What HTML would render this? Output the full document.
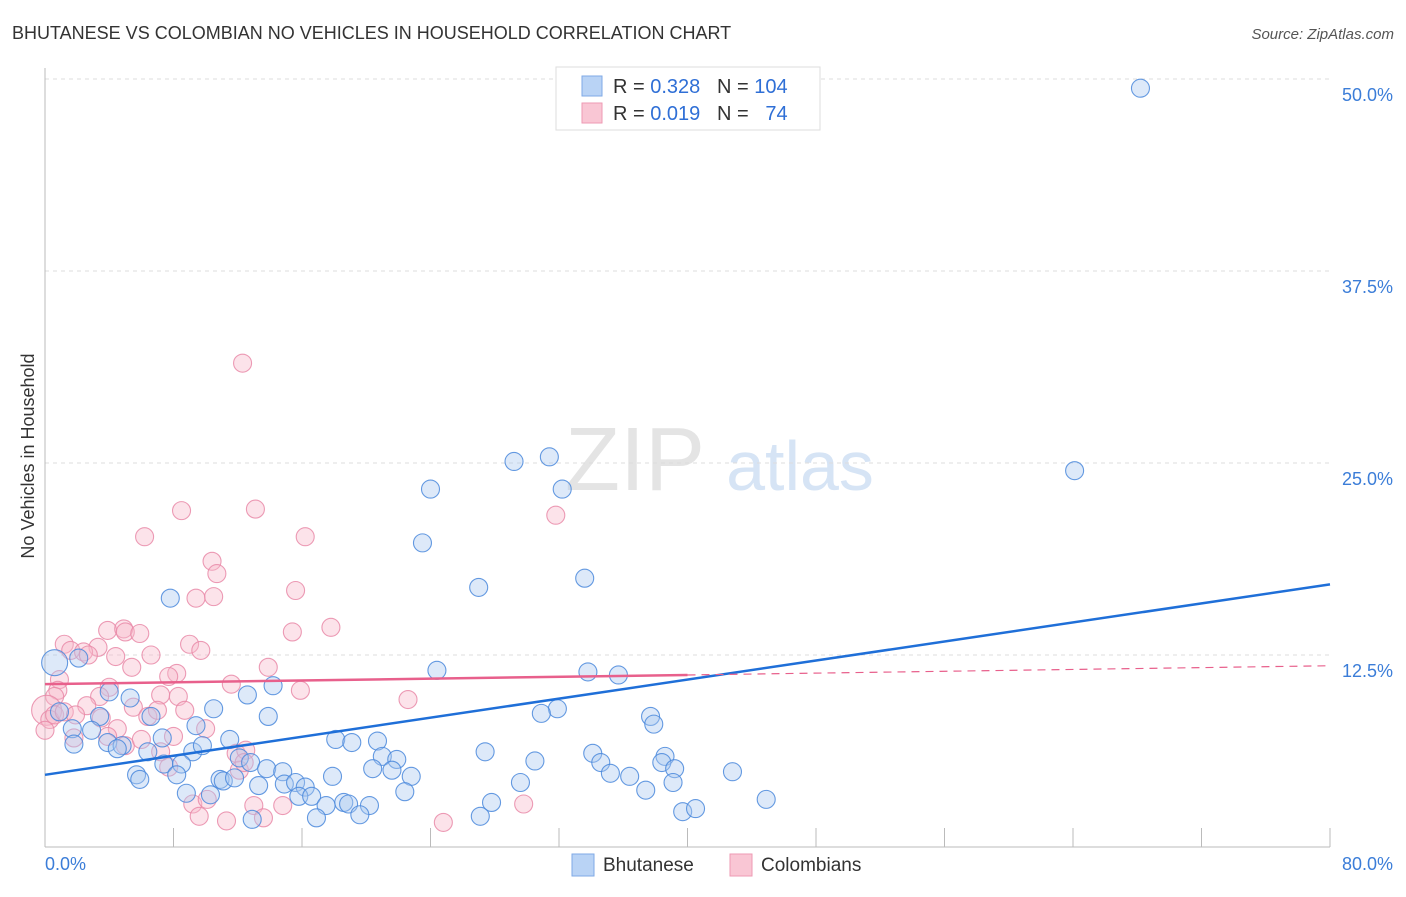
<!DOCTYPE html>
<html><head><meta charset="utf-8"><style>
body{margin:0;background:#fff;font-family:"Liberation Sans",sans-serif}
svg text{font-family:"Liberation Sans",sans-serif}
</style></head><body>
<svg id="chart" width="1406" height="892" xmlns="http://www.w3.org/2000/svg">
<text x="12" y="39" font-size="18" fill="#333">BHUTANESE VS COLOMBIAN NO VEHICLES IN HOUSEHOLD CORRELATION CHART</text>
<text x="1394" y="39" font-size="15" fill="#555" text-anchor="end" font-style="italic">Source: ZipAtlas.com</text>
<g><text x="635" y="490" font-size="90" fill="#e4e4e4" font-family="Liberation Serif" text-anchor="middle">ZIP</text><text x="800" y="490" font-size="70" fill="#d6e4f5" text-anchor="middle">atlas</text></g>
<g id="grid"></g><g id="axes"></g><g id="pts"></g><g id="lines"></g>
<text transform="translate(34,456) rotate(-90)" font-size="18" fill="#333" text-anchor="middle">No Vehicles in Household</text>
<g>
<rect x="556" y="67" width="264" height="63" fill="#fff" stroke="#ddd"/>
<rect x="582" y="76" width="20" height="20" fill="#b9d3f5" stroke="#7fa9e6"/>
<rect x="582" y="103" width="20" height="20" fill="#f9c6d4" stroke="#ee9ab3"/>
<text x="613" y="93" font-size="20" fill="#333">R = <tspan fill="#2f6fd6">0.328</tspan>&#160;&#160;&#160;N = <tspan fill="#2f6fd6">104</tspan></text>
<text x="613" y="120" font-size="20" fill="#333">R = <tspan fill="#2f6fd6">0.019</tspan>&#160;&#160;&#160;N = <tspan fill="#2f6fd6">&#160;&#160;74</tspan></text>
</g>
<g>
<rect x="572" y="854" width="22" height="22" fill="#b9d3f5" stroke="#7fa9e6"/>
<text x="603" y="871" font-size="19" fill="#333">Bhutanese</text>
<rect x="730" y="854" width="22" height="22" fill="#f9c6d4" stroke="#ee9ab3"/>
<text x="761" y="871" font-size="19" fill="#333">Colombians</text>
</g>
</svg>
<script>
const blueX=[68.2,64.1,31.4,29.2,32.2,24.0,23.5,33.6,27.0,7.8,0.6,2.1,24.4,33.8,35.7,4.0,14.2,12.6,5.3,10.5,13.9,3.4,6.6,31.9,30.9,37.7,37.9,9.4,0.9,1.7,2.9,1.8,3.9,4.8,4.5,7.3,11.5,18.1,19.1,20.7,27.4,34.1,34.6,38.6,38.4,39.2,42.8,30.5,21.0,21.9,9.2,9.8,6.4,7.4,8.5,12.1,12.8,13.8,14.8,20.4,21.6,22.8,17.9,5.7,5.9,8.2,10.9,11.1,11.8,13.3,14.9,15.6,16.2,22.4,29.6,35.2,36.4,39.1,37.4,8.8,10.3,15.8,16.6,18.6,18.9,20.2,17.5,27.8,44.9,27.1,16.9,19.6,39.7,40.5,12.9];
const blueY=[49.4,24.5,25.4,25.1,23.3,23.3,19.8,17.5,16.9,16.2,12.0,12.3,11.5,11.4,11.2,10.1,10.5,9.9,9.7,9.0,8.5,8.5,8.5,9.0,8.7,8.5,8.0,7.9,8.8,7.7,7.6,6.7,6.8,6.6,6.4,7.1,7.0,7.0,6.8,6.9,6.2,6.1,5.5,5.9,5.5,5.1,4.9,5.6,5.9,5.7,6.2,6.6,6.2,5.4,5.4,5.8,5.5,5.1,4.9,5.1,5.0,4.6,4.6,4.7,4.4,4.7,4.4,4.3,4.5,4.0,4.1,4.2,3.9,3.6,4.2,4.8,4.6,4.2,3.7,3.5,3.4,3.3,3.3,2.9,2.8,2.7,2.7,2.9,3.1,2.0,1.9,2.1,2.3,2.5,1.8];
const pinkX=[12.3,8.5,13.1,31.8,6.2,16.2,10.4,10.7,15.6,9.4,10.5,17.8,15.4,3.9,4.9,5.0,5.9,1.2,1.6,3.3,2.4,2.7,4.4,6.6,9.0,9.7,13.9,8.2,7.7,5.4,11.6,0.9,0.8,0.6,0.1,0.3,0.6,4.0,15.9,7.2,8.3,22.6,3.4,2.6,1.2,1.9,3.5,5.5,6.4,7.0,8.7,10.0,4.5,3.9,5.0,6.0,8.0,7.2,7.7,11.9,12.5,12.1,12.4,13.0,14.8,9.2,10.1,9.6,11.3,13.6,29.8,24.8,0.0,1.8];
const pinkY=[31.5,21.9,22.0,21.6,20.2,20.2,18.6,17.8,16.7,16.2,16.3,14.3,14.0,14.1,14.2,14.0,13.9,13.2,12.8,13.0,12.7,12.5,12.4,12.5,13.2,12.8,11.7,11.3,11.1,11.7,10.6,10.9,10.2,9.8,8.9,8.3,8.6,10.4,10.2,9.9,9.8,9.6,9.8,9.2,8.8,8.6,8.4,9.1,8.5,8.9,8.9,7.7,7.7,7.2,6.6,7.0,7.2,6.2,5.2,6.1,6.3,5.0,5.5,2.7,2.7,2.8,3.1,2.0,1.7,1.9,2.8,1.6,7.6,7.1];
const blueTrend=[4.7,17.1];
const pinkTrend=[10.6,11.8];
const yTicks=[12.5,25,37.5,50];
const yTickLabels=["12.5%","25.0%","37.5%","50.0%"];
const xTickVals=[0,8,16,24,32,40,48,56,64,72,80];
const xLabels=["0.0%","80.0%"];
const NS="http://www.w3.org/2000/svg";
const X=v=>45+v*(1330-45)/80, Y=v=>847-v*(847-79)/50;
function mk(tag,attrs,parent){const e=document.createElementNS(NS,tag);for(const k in attrs)e.setAttribute(k,attrs[k]);document.getElementById(parent).appendChild(e);return e;}
yTicks.forEach((t,i)=>{
 const l=mk('line',{x1:45,x2:1330,y1:Y(t),y2:Y(t),stroke:'#ddd','stroke-dasharray':'4,4'},'grid');
 
 
 const tx=mk('text',{x:1393,y:Y(t)+22,'font-size':18,fill:'#3b7dd8','text-anchor':'end'},'grid');
 
 
 tx.textContent=yTickLabels[i];
});
const ax=mk('line',{x1:45,x2:1330,y1:847,y2:847,stroke:'#bbb'},'axes');


const ay=mk('line',{x1:45,x2:45,y1:68,y2:847,stroke:'#bbb'},'axes');


xTickVals.forEach(v=>{const t=mk('line',{x1:X(v),x2:X(v),y1:828,y2:847,stroke:'#bbb'},'axes');
 
 });
[[0,45,'start'],[80,1393,'end']].forEach((d,i)=>{const t=mk('text',{x:d[1],y:870,'font-size':18,fill:'#3b7dd8','text-anchor':d[2]},'axes');
 
 
 t.textContent=xLabels[i];});
function pts(xs,ys,fill,stroke,bigIdx,bigR,name){
 xs.forEach((x,i)=>{const c=mk('circle',{cx:X(x),cy:Y(ys[i]),r:i===bigIdx?bigR:9,fill:fill,'fill-opacity':0.4,stroke:stroke,'stroke-opacity':0.85,'stroke-width':1.1},'pts');
 
 });
}
pts(pinkX,pinkY,'#f7b9cb','#e98aa8',34,15,'colombian-point');
pts(blueX,blueY,'#a9c8f0','#4a88dc',10,13,'bhutanese-point');
const bl=mk('line',{x1:X(0),y1:Y(blueTrend[0]),x2:X(80),y2:Y(blueTrend[1]),stroke:'#1f6fd8','stroke-width':2.5},'lines');


const pm=(pinkTrend[0]+pinkTrend[1])/2;
const pl=mk('line',{x1:X(0),y1:Y(pinkTrend[0]),x2:X(40),y2:Y(pm),stroke:'#e8608c','stroke-width':2.5},'lines');


const pd=mk('line',{x1:X(40),y1:Y(pm),x2:X(80),y2:Y(pinkTrend[1]),stroke:'#e8608c','stroke-width':1.2,'stroke-dasharray':'8,6'},'lines');


</script>
</body></html>
